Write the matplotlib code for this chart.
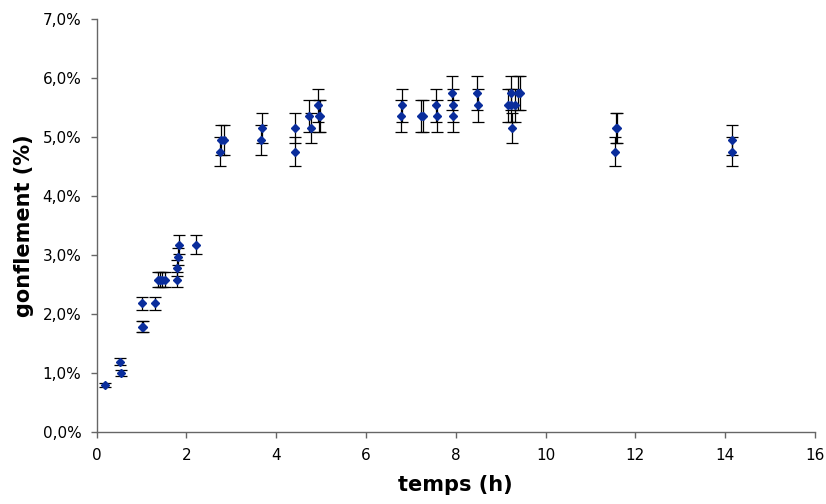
import matplotlib
matplotlib.use("Agg")
import matplotlib.pyplot as plt
from matplotlib.ticker import FuncFormatter, MultipleLocator

# temps (h) et gonflement (%)
temps = [0.18, 0.52, 0.54, 1.02, 1.04, 1.02, 1.30, 1.36, 1.41, 1.46, 1.52,
         1.78, 1.80, 1.81, 1.84, 2.21,
         2.74, 2.78, 2.83, 3.67, 3.68, 4.41, 4.41, 4.74, 4.78, 4.92, 4.95, 4.98,
         6.78, 6.80, 7.22, 7.26, 7.57, 7.59, 7.92, 7.94, 7.94, 8.47, 8.50,
         9.17, 9.22, 9.24, 9.26, 9.33, 9.38, 9.43,
         11.54, 11.57, 11.60, 14.15, 14.16]
gonflement = [0.79, 1.19, 0.99, 1.78, 1.78, 2.18, 2.18, 2.58, 2.58, 2.58, 2.58,
              2.58, 2.78, 2.97, 3.17, 3.17,
              4.75, 4.95, 4.95, 4.95, 5.15, 5.15, 4.75, 5.35, 5.15, 5.54, 5.35, 5.35,
              5.35, 5.54, 5.35, 5.35, 5.54, 5.35, 5.74, 5.54, 5.35, 5.74, 5.54,
              5.54, 5.54, 5.74, 5.15, 5.54, 5.74, 5.74,
              4.75, 5.15, 5.15, 4.75, 4.95]
# barres d'erreur (environ 5 % de la valeur)
erreur = [0.04, 0.06, 0.05, 0.09, 0.09, 0.11, 0.11, 0.13, 0.13, 0.13, 0.13,
          0.13, 0.14, 0.15, 0.16, 0.16,
          0.24, 0.25, 0.25, 0.25, 0.26, 0.26, 0.24, 0.27, 0.26, 0.28, 0.27, 0.27,
          0.27, 0.28, 0.27, 0.27, 0.28, 0.27, 0.29, 0.28, 0.27, 0.29, 0.28,
          0.28, 0.28, 0.29, 0.26, 0.28, 0.29, 0.29,
          0.24, 0.26, 0.26, 0.24, 0.25]

fig = plt.figure(figsize=(8.26, 5.04), dpi=100)
ax = fig.add_axes([0.117, 0.1435, 0.8696, 0.8188])

ax.errorbar(temps, gonflement, yerr=erreur, fmt="D", color="#0a2d9c",
            markersize=4, markeredgecolor="#0a2d9c", ecolor="black",
            elinewidth=0.9, capsize=4, capthick=0.9)

ax.set_xlim(0, 16)
ax.set_ylim(0, 7)
ax.xaxis.set_major_locator(MultipleLocator(2))
ax.yaxis.set_major_locator(MultipleLocator(1))
ax.yaxis.set_major_formatter(FuncFormatter(lambda v, p: f"{v:.1f}%".replace(".", ",")))

for s in ["top", "right"]:
    ax.spines[s].set_visible(False)
for s in ["left", "bottom"]:
    ax.spines[s].set_color("#666666")
    ax.spines[s].set_linewidth(1)

ax.tick_params(axis="both", direction="out", length=4, width=1, color="#666666",
               labelsize=11, labelcolor="black")
ax.tick_params(axis="y", pad=7)
ax.tick_params(axis="x", pad=8)

ax.set_xlabel("temps (h)", fontsize=15, fontweight="bold", va="center")
ax.set_ylabel("gonflement (%)", fontsize=15, fontweight="bold", va="center")
ax.xaxis.set_label_coords(0.5, -0.129)
ax.yaxis.set_label_coords(-0.101, 0.5)

fig.savefig("out.png", dpi=100)
